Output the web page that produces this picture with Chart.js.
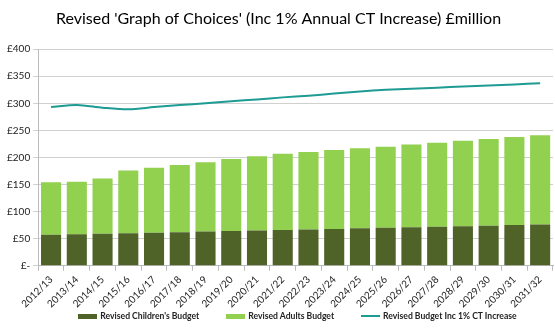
<!DOCTYPE html>
<html>
<head>
<meta charset="utf-8">
<script src="https://cdn.jsdelivr.net/npm/chart.js@4/dist/chart.umd.min.js"></script>
<style>
  body { margin: 0; background: #fff; }
  #wrap { position: relative; width: 555px; height: 331px; }
  #legend { position: absolute; left: 42px; width: 511px; top: 311px; display: flex; justify-content: center; gap: 27px;
    font-family: Lato, 'Liberation Sans', sans-serif; font-size: 8.6px; font-weight: bold; color: #222; }
  #legend .item { display: flex; align-items: center; }
  #legend .swatch { width: 19px; margin-right: 3px; }
</style>
</head>
<body>
<div id="wrap">
  <canvas id="myChart" width="555" height="315"></canvas>
  <div id="legend"></div>
</div>
<script>
const years = ['2012/13', '2013/14', '2014/15', '2015/16', '2016/17', '2017/18', '2018/19', '2019/20', '2020/21', '2021/22',
    '2022/23', '2023/24', '2024/25', '2025/26', '2026/27', '2027/28', '2028/29', '2029/30', '2030/31', '2031/32'];
const childrensBudget = [57, 58, 59, 60, 61, 62, 63, 64, 65, 66, 67, 68, 69, 70, 71, 72, 73, 74, 75, 76];
const adultsBudget = [97, 97, 102, 116, 120, 124, 128, 133, 137, 141, 143, 146, 148, 150, 153, 155, 158, 160, 163, 165];
const budgetWithCT = [293, 297, 292, 289, 293, 297, 300, 304, 307, 311, 314, 318, 322, 325, 327, 329, 331, 333, 335, 337];
const yTicks = [0, 50, 100, 150, 200, 250, 300, 350, 400];

const font = "Lato, 'Liberation Sans', sans-serif";

// legend drawn as html so the gap between items can be set freely
const htmlLegend = {
    id: 'htmlLegend',
    afterUpdate(chart) {
        const box = document.getElementById('legend');
        box.innerHTML = '';
        const items = chart.options.plugins.legend.labels.generateLabels(chart);
        [1, 2, 0].forEach(i => {
            const item = items.find(l => l.datasetIndex === i);
            const isLine = chart.data.datasets[i].type === 'line';
            const div = document.createElement('div');
            div.className = 'item';
            div.innerHTML = `<span class="swatch" style="height:${isLine ? 2 : 5}px;background:${isLine ? item.strokeStyle : item.fillStyle}"></span><span>${item.text}</span>`;
            box.appendChild(div);
        });
    }
};

new Chart(document.getElementById('myChart').getContext('2d'), {
    type: 'bar',
    data: {
        labels: years,
        datasets: [
            {
                type: 'line',
                label: 'Revised Budget Inc 1% CT Increase',
                data: budgetWithCT,
                borderColor: '#1e9b92',
                backgroundColor: '#1e9b92',
                borderWidth: 2,
                pointRadius: 0,
                tension: 0.3,
                order: 3
            },
            {
                label: "Revised Children's Budget",
                data: childrensBudget,
                backgroundColor: '#4f6228',
                categoryPercentage: 1,
                barPercentage: 0.78,
                order: 1
            },
            {
                label: 'Revised Adults Budget',
                data: adultsBudget,
                backgroundColor: '#92d050',
                categoryPercentage: 1,
                barPercentage: 0.78,
                order: 2
            }
        ]
    },
    options: {
        responsive: false,
        animation: false,
        layout: { padding: { left: 4, right: 2, top: 6, bottom: 2 } },
        plugins: {
            title: {
                display: true,
                text: "Revised 'Graph of Choices' (Inc 1% Annual CT Increase) £million",
                color: '#000',
                font: { family: font, size: 16, weight: 'normal' },
                padding: { top: 3, bottom: 21 }
            },
            legend: { display: false },
            tooltip: { enabled: false }
        },
        scales: {
            x: {
                stacked: true,
                grid: { display: true, drawOnChartArea: false, offset: true, tickLength: 5, color: '#bbb' },
                border: { color: '#bbb' },
                ticks: {
                    color: '#222',
                    font: { family: font, size: 10 },
                    maxRotation: 45,
                    minRotation: 45,
                    autoSkip: false
                }
            },
            y: {
                stacked: true,
                min: 0,
                max: 400,
                afterBuildTicks: axis => { axis.ticks = yTicks.map(v => ({ value: v })); },
                grid: { color: '#d0d0d0', tickLength: 5 },
                border: { color: '#bbb' },
                ticks: {
                    color: '#222',
                    font: { family: font, size: 10 },
                    callback: v => v === 0 ? '£-' : '£' + v
                }
            }
        }
    },
    plugins: [htmlLegend]
});
</script>
</body>
</html>
